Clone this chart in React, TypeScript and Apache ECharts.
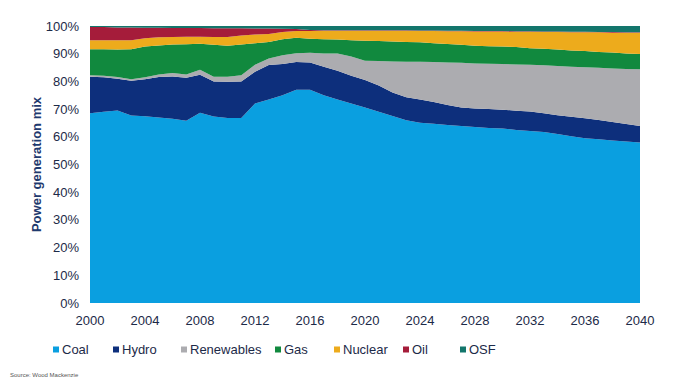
import React, { useEffect, useRef } from "react";
import * as echarts from "echarts";

const years: string[] = [];
for (let y = 2000; y <= 2040; y++) years.push(String(y));

const coal = [68.5, 69.0, 69.5, 67.7, 67.4, 67.0, 66.5, 65.8, 68.7, 67.3, 66.8, 66.8, 72.0, 73.5, 75.0, 77.0, 77.0, 75.0, 73.5, 72.0, 70.6, 69.0, 67.5, 66.0, 65.1, 64.7, 64.3, 63.9, 63.5, 63.2, 63.0, 62.5, 62.1, 61.7, 61.0, 60.2, 59.5, 59.1, 58.7, 58.3, 57.9];
const hydro = [13.2, 12.5, 11.5, 12.5, 13.4, 14.6, 15.3, 15.5, 13.7, 12.7, 13.1, 13.2, 11.5, 12.4, 11.3, 10.0, 9.8, 10.3, 10.3, 10.0, 9.9, 9.5, 8.5, 8.3, 8.4, 7.9, 7.2, 6.7, 6.7, 6.8, 6.8, 6.9, 7.0, 6.8, 6.8, 7.0, 7.2, 7.0, 6.6, 6.3, 6.0];
const renewables = [0.5, 0.5, 0.6, 0.6, 0.7, 0.9, 1.2, 1.2, 1.8, 1.7, 1.8, 2.2, 2.5, 2.4, 3.1, 3.2, 3.5, 4.8, 6.3, 7.0, 7.0, 8.9, 11.2, 12.8, 13.6, 14.4, 15.3, 16.1, 16.3, 16.4, 16.5, 16.7, 16.9, 17.3, 17.8, 18.1, 18.4, 18.8, 19.4, 19.9, 20.5];
const gas = [9.4, 9.6, 9.9, 10.8, 11.1, 10.5, 10.3, 10.9, 9.4, 11.5, 11.2, 11.1, 7.8, 5.9, 5.8, 5.6, 5.1, 5.1, 5.0, 5.9, 7.2, 7.2, 7.2, 7.1, 7.0, 6.8, 6.7, 6.5, 6.4, 6.3, 6.3, 6.3, 6.0, 6.0, 5.9, 5.9, 5.9, 5.7, 5.7, 5.6, 5.5];
const nuclear = [3.3, 3.3, 3.4, 3.3, 3.0, 2.9, 2.7, 2.7, 2.5, 2.8, 3.1, 3.3, 3.1, 2.9, 2.6, 2.4, 2.8, 3.1, 3.2, 3.4, 3.6, 3.7, 3.9, 4.1, 4.1, 4.4, 4.6, 4.9, 5.1, 5.3, 5.4, 5.5, 5.9, 6.0, 6.3, 6.5, 6.7, 7.1, 7.2, 7.5, 7.7];
const oil = [4.7, 4.7, 4.6, 4.6, 3.8, 3.5, 3.3, 3.2, 3.2, 3.2, 3.2, 2.6, 2.2, 2.0, 1.2, 0.7, 0.4, 0.2, 0.2, 0.2, 0.2, 0.2, 0.2, 0.2, 0.2, 0.2, 0.2, 0.2, 0.2, 0.2, 0.2, 0.2, 0.2, 0.2, 0.2, 0.2, 0.2, 0.1, 0.2, 0.1, 0.1];
const osf = [0.4, 0.4, 0.5, 0.5, 0.6, 0.6, 0.7, 0.7, 0.7, 0.8, 0.8, 0.8, 0.9, 0.9, 1.0, 1.1, 1.4, 1.5, 1.5, 1.5, 1.5, 1.5, 1.5, 1.5, 1.6, 1.6, 1.7, 1.7, 1.8, 1.8, 1.8, 1.9, 1.9, 2.0, 2.0, 2.1, 2.1, 2.2, 2.2, 2.3, 2.3];

const seriesNames = ["Coal", "Hydro", "Renewables", "Gas", "Nuclear", "Oil", "OSF"];
const seriesData = [coal, hydro, renewables, gas, nuclear, oil, osf];
const colors = ["#0a9fe0", "#0d2f7c", "#acacb0", "#11893e", "#edab1c", "#a51c3a", "#13766c"];
const legendLefts = [53, 113, 181, 275, 334, 403, 460];

const TEXT = "#1c2a48";
const FONT = "Liberation Sans, Arial, sans-serif";

export default function App() {
  const ref = useRef<HTMLDivElement>(null);
  useEffect(() => {
    if (!ref.current) return;
    const chart = echarts.init(ref.current, undefined, { renderer: "svg" });
    chart.setOption({
      animation: false,
      grid: { left: 90, right: 60, top: 26, bottom: 83 },
      legend: seriesNames.map((n, i) => ({
        data: [n],
        left: legendLefts[i],
        top: 343,
        icon: "rect",
        itemWidth: 6,
        itemHeight: 6,
        itemGap: 0,
        padding: 0,
        textStyle: { color: TEXT, fontSize: 13, fontFamily: FONT, padding: [0, 0, 0, -2] },
      })),
      xAxis: {
        type: "category",
        data: years,
        boundaryGap: false,
        axisLine: { show: false },
        axisTick: { show: false },
        axisLabel: { interval: 3, color: TEXT, fontSize: 13, fontFamily: FONT, margin: 11 },
        splitLine: { show: false },
      },
      yAxis: {
        type: "value",
        min: 0,
        max: 100,
        interval: 10,
        name: "Power generation mix",
        nameLocation: "middle",
        nameGap: 47,
        nameMoveOverlap: false,
        nameTextStyle: { color: "#1f3a6e", fontSize: 13, fontWeight: "bold", fontFamily: FONT },
        axisLine: { show: false },
        axisTick: { show: false },
        splitLine: { show: false },
        axisLabel: { formatter: "{value}%", color: TEXT, fontSize: 13, fontFamily: FONT, margin: 11 },
      },
      graphic: [
        {
          type: "text",
          left: 10,
          top: 372,
          style: { text: "Source: Wood Mackenzie", fill: "#555", fontSize: 6, fontFamily: FONT },
        },
      ],
      series: seriesNames.map((n, i) => ({
        name: n,
        type: "line",
        stack: "total",
        data: seriesData[i],
        showSymbol: false,
        symbol: "none",
        lineStyle: { width: 0 },
        itemStyle: { color: colors[i] },
        areaStyle: { color: colors[i], opacity: 1 },
      })),
    });
    return () => chart.dispose();
  }, []);
  return <div ref={ref} style={{ width: 700, height: 386, margin: -8 }} />;
}
